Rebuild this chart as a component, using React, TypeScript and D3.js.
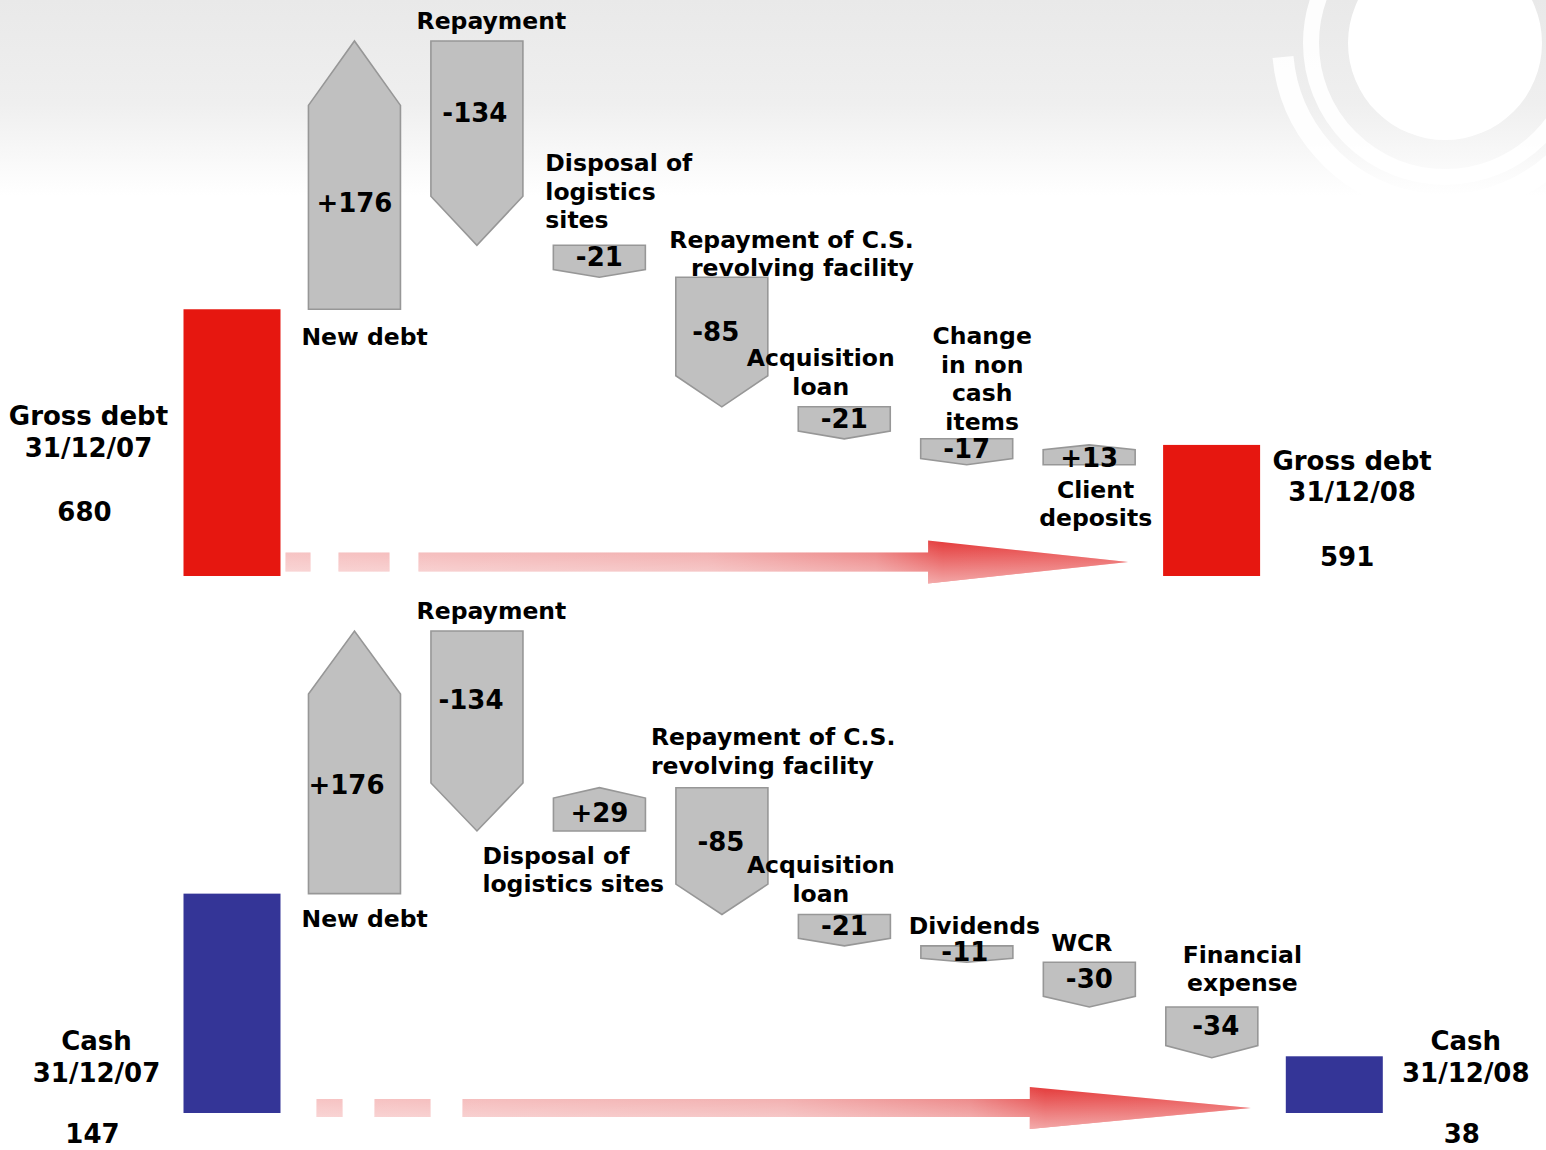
import React from "react";
import * as d3 from "d3";

// ---------- DATA ----------
const debtCategories = [
  "Gross debt 31/12/07",
  "New debt",
  "Repayment",
  "Disposal of logistics sites",
  "Repayment of C.S. revolving facility",
  "Acquisition loan",
  "Change in non cash items",
  "Client deposits",
  "Gross debt 31/12/08",
];
const debtLabelLines = [
  ["Gross debt", "31/12/07"],
  ["New debt"],
  ["Repayment"],
  ["Disposal of", "logistics", "sites"],
  ["Repayment of C.S.", "revolving facility"],
  ["Acquisition", "loan"],
  ["Change", "in non", "cash", "items"],
  ["Client", "deposits"],
  ["Gross debt", "31/12/08"],
];
const debtStart = 680;
const debtDeltas = [176, -134, -21, -85, -21, -17, 13];
const debtEnd = 591;

const cashCategories = [
  "Cash 31/12/07",
  "New debt",
  "Repayment",
  "Disposal of logistics sites",
  "Repayment of C.S. revolving facility",
  "Acquisition loan",
  "Dividends",
  "WCR",
  "Financial expense",
  "Cash 31/12/08",
];
const cashLabelLines = [
  ["Cash", "31/12/07"],
  ["New debt"],
  ["Repayment"],
  ["Disposal of", "logistics sites"],
  ["Repayment of C.S.", "revolving facility"],
  ["Acquisition", "loan"],
  ["Dividends"],
  ["WCR"],
  ["Financial", "expense"],
  ["Cash", "31/12/08"],
];
const cashStart = 147;
const cashDeltas = [176, -134, 29, -85, -21, -11, -30, -34];
const cashEnd = 38;

// ---------- LAYOUT (positions/styles, not data) ----------
const FONT = "'DejaVu Sans', Verdana, sans-serif";
const STEP_W = 92;
const TOTAL_W = 97;
const LINE_H = 28.5;

type StepLayout = {
  pos: "above" | "below";
  anchor: "start" | "middle" | "end";
  dx: number;
  dy: number;
  vdx?: number;
  vdy?: number;
};

const debtLayout = {
  xRange: [232, 1211.6],
  yDomain: [505, 856],
  yRange: [576, 41],
  totalColor: "#e61710",
  steps: [
    { pos: "below", anchor: "start", dx: -7, dy: 28, vdx: 0, vdy: -4 },
    { pos: "above", anchor: "middle", dx: 14.5, dy: -20, vdx: -2, vdy: -6 },
    { pos: "above", anchor: "start", dx: -8, dy: -25 },
    { pos: "above", anchor: "end", dx: 146, dy: -9, vdx: -6, vdy: 6 },
    { pos: "above", anchor: "middle", dx: -23.5, dy: -20 },
    { pos: "above", anchor: "middle", dx: 15.5, dy: -17 },
    { pos: "below", anchor: "middle", dx: 6.5, dy: 25, vdy: 1 },
  ] as StepLayout[],
  startLabel: { dx: -95, lines: [-160, -128], vdx: -99, vdy: -64 },
  endLabel: { dx: 92, lines: [-115, -84], vdx: 87, vdy: -19 },
  flow: {
    startOff: 5, tipOff: 35, cyOff: -14,
    dashes: [[0, 25], [53, 104]], shaftStart: 133, headLen: 200,
    shaftHalf: 9.5, headHalf: 21.5,
  },
};

const cashLayout = {
  xRange: [232, 1334.3],
  yDomain: [0, 323],
  yRange: [1113, 631],
  totalColor: "#343597",
  steps: [
    { pos: "below", anchor: "start", dx: -7, dy: 25, vdx: -8, vdy: -9 },
    { pos: "above", anchor: "middle", dx: 14.5, dy: -20, vdx: -6, vdy: -7 },
    { pos: "below", anchor: "start", dx: -71, dy: 25, vdx: 0, vdy: -2 },
    { pos: "above", anchor: "start", dx: -25, dy: -22, vdx: -1, vdy: 6 },
    { pos: "above", anchor: "middle", dx: -23.5, dy: -21 },
    { pos: "above", anchor: "middle", dx: 7.5, dy: -20, vdx: -2 },
    { pos: "above", anchor: "middle", dx: -7.5, dy: -19 },
    { pos: "above", anchor: "middle", dx: 30.5, dy: -24, vdx: 4 },
  ] as StepLayout[],
  startLabel: { dx: -87, lines: [-72, -40], vdx: -91, vdy: 21 },
  endLabel: { dx: 83, lines: [-72, -40], vdx: 79, vdy: 21 },
  flow: {
    startOff: 36, tipOff: 35, cyOff: -5,
    dashes: [[0, 26], [58, 114]], shaftStart: 146, headLen: 221,
    shaftHalf: 9, headHalf: 21,
  },
};

const fmt = (d: number) => (d > 0 ? "+" : "-") + Math.abs(d);

function Waterfall({ id, categories, labelLines, start, deltas, end, layout }: any) {
  const x = d3.scalePoint<string>().domain(categories).range(layout.xRange as [number, number]);
  const y = d3.scaleLinear().domain(layout.yDomain).range(layout.yRange);
  const baseY = y(layout.yDomain[0]);

  const cum: number[] = [start];
  deltas.forEach((d: number) => cum.push(cum[cum.length - 1] + d));

  const startCx = x(categories[0])!;
  const endCx = x(categories[categories.length - 1])!;
  const startX0 = startCx - TOTAL_W / 2;
  const startX1 = startCx + TOTAL_W / 2;
  const endX0 = endCx - TOTAL_W / 2;
  const endX1 = endCx + TOTAL_W / 2;

  const f = layout.flow;
  const fs = startX1 + f.startOff;
  const tip = endX0 - f.tipOff;
  const cy = baseY + f.cyOff;
  const headStart = tip - f.headLen;

  const textProps = { fontFamily: FONT, fontWeight: 700, fill: "#000" } as any;

  return (
    <g>
      <defs>
        <linearGradient id={`${id}-h`} gradientUnits="userSpaceOnUse" x1={fs} y1={0} x2={tip} y2={0}>
          <stop offset="0" stopColor="#f5b9b9" />
          <stop offset="0.5" stopColor="#f0a3a3" />
          <stop offset="0.7" stopColor="#ea7676" />
          <stop offset="0.78" stopColor="#e43b3b" />
          <stop offset="1" stopColor="#e84848" />
        </linearGradient>
        <linearGradient id={`${id}-v`} gradientUnits="userSpaceOnUse" x1={0} y1={cy - f.headHalf} x2={0} y2={cy + f.headHalf}>
          <stop offset="0" stopColor="#fff" stopOpacity={0} />
          <stop offset="1" stopColor="#fff" stopOpacity={0.55} />
        </linearGradient>
      </defs>

      {[`url(#${id}-h)`, `url(#${id}-v)`].map((fill, k) => (
        <g key={k} fill={fill}>
          {f.dashes.map((dd: number[], i: number) => (
            <rect key={i} x={fs + dd[0]} y={cy - f.shaftHalf} width={dd[1] - dd[0]} height={f.shaftHalf * 2} />
          ))}
          <path
            d={`M${fs + f.shaftStart},${cy - f.shaftHalf} L${headStart},${cy - f.shaftHalf} L${headStart},${cy - f.headHalf} L${tip},${cy} L${headStart},${cy + f.headHalf} L${headStart},${cy + f.shaftHalf} L${fs + f.shaftStart},${cy + f.shaftHalf} Z`}
          />
        </g>
      ))}

      <rect x={startX0} y={y(start)} width={TOTAL_W} height={baseY - y(start)} fill={layout.totalColor} />
      <rect x={endX0} y={y(end)} width={TOTAL_W} height={baseY - y(end)} fill={layout.totalColor} />

      {labelLines[0].map((t: string, i: number) => (
        <text key={"s" + i} {...textProps} fontSize={26} x={startX0 + layout.startLabel.dx} y={baseY + layout.startLabel.lines[i]} textAnchor="middle" dominantBaseline="central">{t}</text>
      ))}
      <text {...textProps} fontSize={26} x={startX0 + layout.startLabel.vdx} y={baseY + layout.startLabel.vdy} textAnchor="middle" dominantBaseline="central">{start}</text>
      {labelLines[labelLines.length - 1].map((t: string, i: number) => (
        <text key={"e" + i} {...textProps} fontSize={26} x={endX1 + layout.endLabel.dx} y={baseY + layout.endLabel.lines[i]} textAnchor="middle" dominantBaseline="central">{t}</text>
      ))}
      <text {...textProps} fontSize={26} x={endX1 + layout.endLabel.vdx} y={baseY + layout.endLabel.vdy} textAnchor="middle" dominantBaseline="central">{end}</text>

      {deltas.map((d: number, i: number) => {
        const cat = categories[i + 1];
        const cx = x(cat)!;
        const x0 = cx - STEP_W / 2;
        const x1 = cx + STEP_W / 2;
        const yA = y(cum[i]);
        const yB = y(cum[i + 1]);
        const len = Math.abs(yA - yB);
        const tipH = len * 0.24;
        const up = d > 0;
        const shoulder = up ? yB + tipH : yB - tipH;
        const path = `M${x0},${yA} L${x1},${yA} L${x1},${shoulder} L${cx},${yB} L${x0},${shoulder} Z`;
        const top = Math.min(yA, yB);
        const bottom = Math.max(yA, yB);
        const L = layout.steps[i] as StepLayout;
        const lines = labelLines[i + 1];
        const lx = L.anchor === "start" ? x0 + L.dx : L.anchor === "end" ? x1 + L.dx : cx + L.dx;
        const ly0 = L.pos === "below" ? bottom + L.dy : top + L.dy - (lines.length - 1) * LINE_H;
        const rectMid = (yA + shoulder) / 2;
        return (
          <g key={cat}>
            {lines.map((t: string, j: number) => (
              <text key={j} {...textProps} fontSize={23.5} x={lx} y={ly0 + j * LINE_H} textAnchor={L.anchor} dominantBaseline="central">{t}</text>
            ))}
            <path d={path} fill="#c0c0c0" stroke="#979797" strokeWidth={1.6} strokeLinejoin="miter" />
            <text {...textProps} fontSize={26} x={cx + (L.vdx || 0)} y={rectMid + (L.vdy || 0)} textAnchor="middle" dominantBaseline="central">{fmt(d)}</text>
          </g>
        );
      })}
    </g>
  );
}

export default function App() {
  const W = 1546;
  const H = 1150;
  return (
    <svg width={W} height={H} viewBox={`0 0 ${W} ${H}`} style={{ position: "absolute", left: 0, top: 0, display: "block" }}>
      <defs>
        <linearGradient id="bg" x1="0" y1="0" x2="0" y2={H} gradientUnits="userSpaceOnUse">
          <stop offset="0" stopColor="#e9e9e9" />
          <stop offset="0.09" stopColor="#efefef" />
          <stop offset="0.17" stopColor="#ffffff" />
          <stop offset="1" stopColor="#ffffff" />
        </linearGradient>
      </defs>
      <rect x={0} y={0} width={W} height={H} fill="url(#bg)" />
      <g fill="none" stroke="#ffffff">
        <circle cx={1445} cy={43} r={134} strokeWidth={16} opacity={0.9} />
        <path d={`M${1445 - 162},57 A162,162 0 0 0 ${1445 + 140},${43 + 80}`} strokeWidth={21} opacity={0.9} />
      </g>
      <circle cx={1445} cy={43} r={97} fill="#ffffff" />

      <Waterfall
        id="debt"
        categories={debtCategories}
        labelLines={debtLabelLines}
        start={debtStart}
        deltas={debtDeltas}
        end={debtEnd}
        layout={debtLayout}
      />
      <Waterfall
        id="cash"
        categories={cashCategories}
        labelLines={cashLabelLines}
        start={cashStart}
        deltas={cashDeltas}
        end={cashEnd}
        layout={cashLayout}
      />
    </svg>
  );
}
